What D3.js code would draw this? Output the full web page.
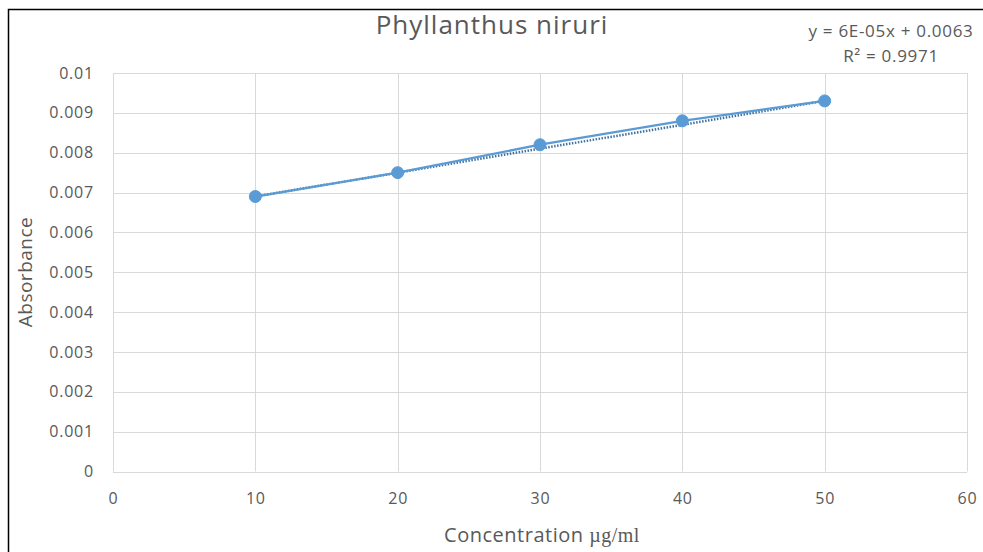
<!DOCTYPE html>
<html>
<head>
<meta charset="utf-8">
<script src="https://cdn.jsdelivr.net/npm/d3@7"></script>
<style>
  html, body { margin: 0; padding: 0; background: #fff; }
  svg { display: block; font-family: "Open Sans", "Noto Sans", sans-serif; }
</style>
</head>
<body>
<div id="chart"></div>
<script>
(function () {
  // ---------- data ----------
  const concentrations = [10, 20, 30, 40, 50];
  const absorbance = [0.0069, 0.0075, 0.0082, 0.0088, 0.0093];
  const xTicks = [0, 10, 20, 30, 40, 50, 60];
  const yTicks = [0, 0.001, 0.002, 0.003, 0.004, 0.005, 0.006, 0.007, 0.008, 0.009, 0.01];
  const trendSlope = 6e-5;
  const trendIntercept = 0.0063;
  const equationLines = ['y = 6E-05x + 0.0063', 'R² = 0.9971'];

  const W = 983, H = 552;
  const m = { left: 113, right: 16, top: 73, bottom: 80 };

  const svg = d3.select('#chart').append('svg')
    .attr('width', W).attr('height', H);

  // outer frame (only left/top edges visible in the crop)
  svg.append('path')
    .attr('d', `M8.5,${H} V9.5 H${W}`)
    .attr('fill', 'none').attr('stroke', '#000').attr('stroke-width', 1.5);

  const x = d3.scaleLinear().domain([0, 60]).range([m.left, W - m.right]);
  const y = d3.scaleLinear().domain([0, 0.01]).range([H - m.bottom - 0.5, m.top]);

  const grid = '#d9d9d9', text = '#595959', blue = '#5b9bd5';

  // gridlines
  svg.append('g').selectAll('line.h').data(yTicks).enter().append('line')
    .attr('x1', x(0)).attr('x2', x(60))
    .attr('y1', d => Math.round(y(d)) + 0.5).attr('y2', d => Math.round(y(d)) + 0.5)
    .attr('stroke', grid);
  svg.append('g').selectAll('line.v').data(xTicks).enter().append('line')
    .attr('y1', y(0)).attr('y2', y(0.01))
    .attr('x1', d => Math.round(x(d)) + 0.5).attr('x2', d => Math.round(x(d)) + 0.5)
    .attr('stroke', grid);

  // axes (labels only, no domain lines)
  const yAxis = svg.append('g')
    .attr('transform', `translate(${m.left - 16},0)`)
    .call(d3.axisLeft(y).tickValues(yTicks).tickSize(0).tickFormat(d => d3.format('')(+d.toFixed(3))));
  const xAxis = svg.append('g')
    .attr('transform', `translate(0,${y(0) + 20})`)
    .call(d3.axisBottom(x).tickValues(xTicks).tickSize(0));
  [xAxis, yAxis].forEach(a => {
    a.select('.domain').remove();
    a.selectAll('text').attr('fill', text).style('font-size', '16px')
      .style('letter-spacing', '0.8px')
      .style('font-family', '"Open Sans", "Noto Sans", sans-serif');
  });
  xAxis.selectAll('text').attr('dy', '0.6em');

  // trendline (dotted)
  svg.append('line')
    .attr('x1', x(10)).attr('y1', y(trendSlope * 10 + trendIntercept))
    .attr('x2', x(50)).attr('y2', y(trendSlope * 50 + trendIntercept))
    .attr('stroke', '#41719c').attr('stroke-width', 2.5)
    .attr('stroke-dasharray', '1.5,1.5');

  // series line + markers
  const pts = concentrations.map((c, i) => [c, absorbance[i]]);
  svg.append('path').datum(pts)
    .attr('d', d3.line().x(d => x(d[0])).y(d => y(d[1])))
    .attr('fill', 'none').attr('stroke', blue).attr('stroke-width', 2.25);
  svg.append('g').selectAll('circle').data(pts).enter().append('circle')
    .attr('cx', d => x(d[0])).attr('cy', d => y(d[1])).attr('r', 6)
    .attr('fill', blue).attr('stroke', blue);

  // title
  svg.append('text').attr('x', 492).attr('y', 34)
    .attr('text-anchor', 'middle').attr('fill', text)
    .style('font-size', '26px').style('letter-spacing', '1px')
    .text('Phyllanthus niruri');

  // trendline equation
  svg.append('g').selectAll('text').data(equationLines).enter().append('text')
    .attr('x', 891).attr('y', (d, i) => 37 + i * 25)
    .attr('text-anchor', 'middle').attr('fill', text)
    .style('font-size', '17px').style('letter-spacing', '0.7px')
    .text(d => d);

  // axis titles
  svg.append('text')
    .attr('transform', 'translate(32,272) rotate(-90)')
    .attr('text-anchor', 'middle').attr('fill', text)
    .style('font-size', '19px').style('letter-spacing', '0.5px')
    .text('Absorbance');
  const xt = svg.append('text').attr('x', 542).attr('y', 542)
    .attr('text-anchor', 'middle').attr('fill', text)
    .style('font-size', '20px').style('letter-spacing', '0.5px');
  xt.append('tspan').text('Concentration ');
  xt.append('tspan').style('font-family', '"Liberation Serif", "DejaVu Serif", serif').text('µg/ml');
})();
</script>
</body>
</html>
